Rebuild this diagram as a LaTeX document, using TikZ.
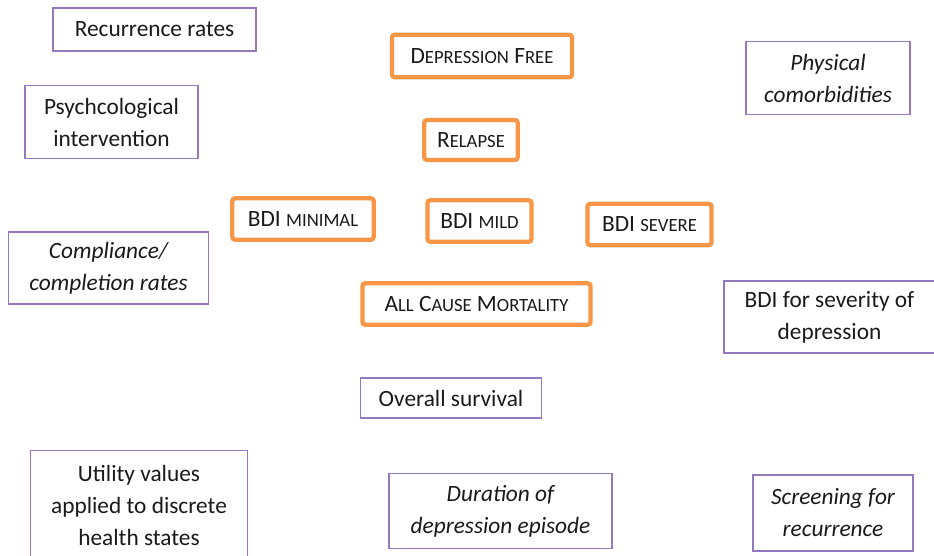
\documentclass[tikz,border=0pt]{standalone}
\usepackage{fontspec}
\setmainfont{Carlito}
\definecolor{stateorange}{HTML}{F79646}
\definecolor{inputpurple}{HTML}{9479BD}
\definecolor{boxtext}{HTML}{1A1A1A}

% maiuscoletto finto (Carlito non ha smcp)
\newcommand\fakesc[1]{{\fontsize{14}{24}\selectfont\MakeUppercase{#1}}}

\tikzset{
    inputbox/.style={draw=inputpurple, line width=1.1pt, align=center, text=boxtext,
        inner sep=0pt, font=\fontsize{17.5}{24}\selectfont},
    statebox/.style={draw=stateorange, line width=3.2pt, rounded corners=2pt, text=boxtext,
        inner sep=0pt, font=\fontsize{17.5}{24}\selectfont},
}

\begin{document}
\begin{tikzpicture}[x=0.75pt, y=-0.75pt]
    \useasboundingbox (0,0) rectangle (934,556);

    % Stati del modello
    \node[statebox, minimum width=135pt, minimum height=32pt] (free) at (482,56) {D\fakesc{epression} F\fakesc{ree}};
    \node[statebox, minimum width=70pt, minimum height=30pt] (relapse) at (471,140) {R\fakesc{elapse}};
    \node[statebox, minimum width=106pt, minimum height=31pt] (minimal) at (303,219) {BDI \fakesc{minimal}};
    \node[statebox, minimum width=78pt, minimum height=31pt] (mild) at (479.5,221) {BDI \fakesc{mild}};
    \node[statebox, minimum width=93pt, minimum height=31pt] (severe) at (649.5,224.5) {BDI \fakesc{severe}};
    \node[statebox, minimum width=171pt, minimum height=31pt] (mortality) at (476.5,304) {A\fakesc{ll} C\fakesc{ause} M\fakesc{ortality}};

    % Dati di input - sinistra
    \node[inputbox, minimum width=152pt, minimum height=32pt] (recurrence) at (154.5,29.5) {Recurrence rates};
    \node[inputbox, minimum width=130pt, minimum height=55pt] (psych) at (111.5,122) {Psychcological\\intervention};
    \node[inputbox, minimum width=150pt, minimum height=54pt, font=\fontsize{17.5}{24}\selectfont\itshape] (compliance) at (108.5,268) {Compliance/\\completion rates};
    \node[inputbox, minimum width=163pt, minimum height=82pt] (utility) at (139,505) {Utility values\\applied to discrete\\health states};

    % Dati di input - centro
    \node[inputbox, minimum width=136pt, minimum height=30pt] (survival) at (451,398) {Overall survival};
    \node[inputbox, minimum width=167pt, minimum height=56pt, font=\fontsize{17.5}{24}\selectfont\itshape] (duration) at (500.5,511) {Duration of\\depression episode};

    % Dati di input - destra
    \node[inputbox, minimum width=123pt, minimum height=55pt, font=\fontsize{17.5}{24}\selectfont\itshape] (physical) at (828,78) {Physical\\comorbidities};
    \node[inputbox, minimum width=158pt, minimum height=54pt] (bdisev) at (829.5,317) {BDI for severity of\\depression};
    \node[inputbox, minimum width=120pt, minimum height=57pt, font=\fontsize{17.5}{24}\selectfont\itshape] (screening) at (833,513) {Screening for\\recurrence};
\end{tikzpicture}
\end{document}
